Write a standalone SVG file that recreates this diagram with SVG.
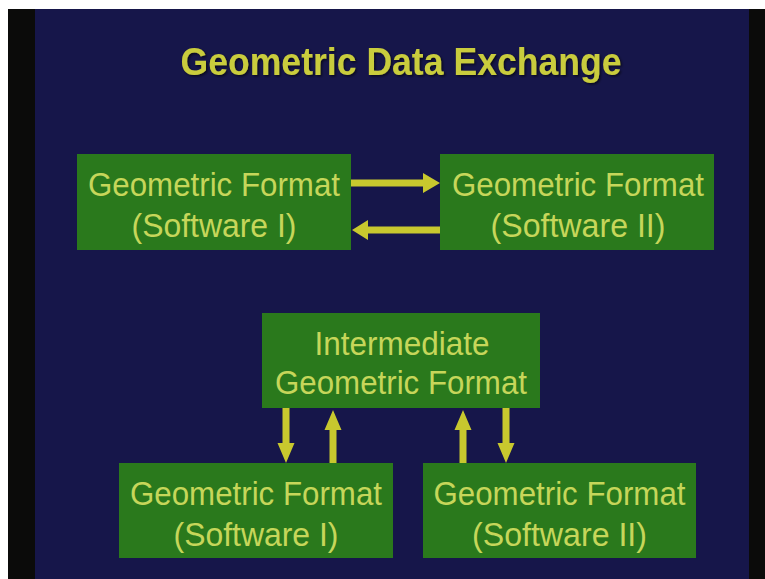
<svg xmlns="http://www.w3.org/2000/svg" width="765" height="579" viewBox="0 0 765 579">
<defs>
<style>
.box{fill:#2a791c;}
.lbl{font-family:"Liberation Sans",Arial,sans-serif;font-size:34px;fill:#c6d65a;text-anchor:middle;}
.title{font-family:"Liberation Sans",Arial,sans-serif;font-size:38px;font-weight:bold;fill:#c9cc3c;text-anchor:middle;}
.arrow{fill:#c8c82e;}
</style>
<filter id="sh" x="-5%" y="-20%" width="110%" height="140%">
<feDropShadow dx="1.5" dy="1.5" stdDeviation="1" flood-color="#000" flood-opacity="0.6"/>
</filter>
</defs>
<rect x="0" y="0" width="765" height="579" fill="#ffffff"/>
<rect x="8" y="9" width="757" height="570" fill="#0b0b0a"/>
<rect x="35" y="9" width="714" height="570" fill="#16164a"/>
<text class="title" x="401" y="75" textLength="441" lengthAdjust="spacingAndGlyphs" filter="url(#sh)">Geometric Data Exchange</text>
<g id="connectors">
<path class="arrow" d="M351,179.5 H423 V173 L440,183 L423,193 V186.5 H351 Z"/>
<path class="arrow" d="M440,226.5 H368 V220 L352,230 L368,240 V233.5 H440 Z"/>
<path class="arrow" d="M282.5,408 V443 H277.5 L286,463 L294.5,443 H289.5 V408 Z"/>
<path class="arrow" d="M329.5,463 V430 H324.5 L333,410 L341.5,430 H336.5 V463 Z"/>
<path class="arrow" d="M459.5,463 V430 H454.5 L463,410 L471.5,430 H466.5 V463 Z"/>
<path class="arrow" d="M502.5,408 V443 H497.5 L506,463 L514.5,443 H509.5 V408 Z"/>
</g>
<g id="top-sw1">
<rect class="box" x="77" y="154" width="274" height="96"/>
<text class="lbl" x="214" y="196" textLength="252" lengthAdjust="spacingAndGlyphs">Geometric Format</text>
<text class="lbl" x="214" y="237" textLength="165" lengthAdjust="spacingAndGlyphs">(Software I)</text>
</g>
<g id="top-sw2">
<rect class="box" x="440" y="154" width="274" height="96"/>
<text class="lbl" x="578" y="196" textLength="252" lengthAdjust="spacingAndGlyphs">Geometric Format</text>
<text class="lbl" x="578" y="237" textLength="175" lengthAdjust="spacingAndGlyphs">(Software II)</text>
</g>
<g id="intermediate">
<rect class="box" x="262" y="313" width="278" height="95"/>
<text class="lbl" x="402" y="355" textLength="175" lengthAdjust="spacingAndGlyphs">Intermediate</text>
<text class="lbl" x="401" y="394" textLength="252" lengthAdjust="spacingAndGlyphs">Geometric Format</text>
</g>
<g id="bottom-sw1">
<rect class="box" x="119" y="463" width="274" height="95"/>
<text class="lbl" x="256" y="505" textLength="252" lengthAdjust="spacingAndGlyphs">Geometric Format</text>
<text class="lbl" x="256" y="546" textLength="165" lengthAdjust="spacingAndGlyphs">(Software I)</text>
</g>
<g id="bottom-sw2">
<rect class="box" x="423" y="463" width="273" height="95"/>
<text class="lbl" x="559.5" y="505" textLength="252" lengthAdjust="spacingAndGlyphs">Geometric Format</text>
<text class="lbl" x="559.5" y="546" textLength="175" lengthAdjust="spacingAndGlyphs">(Software II)</text>
</g>
</svg>
